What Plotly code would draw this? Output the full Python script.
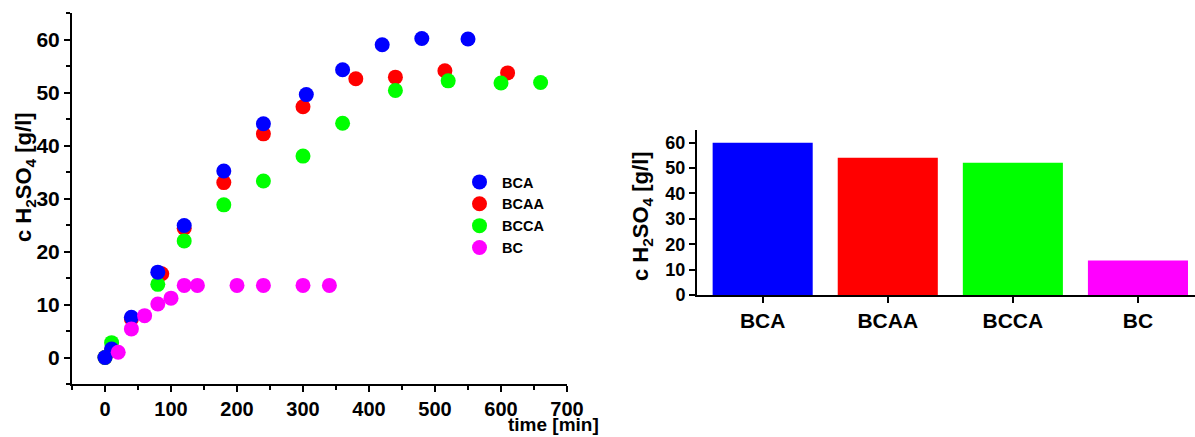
import plotly.graph_objects as go

# ---- data (left: time series) ----
bca_t = [0, 10, 40, 80, 120, 180, 240, 305, 360, 420, 480, 550]
bca_c = [0.0, 1.6, 7.6, 16.1, 24.9, 35.2, 44.1, 49.6, 54.3, 59.0, 60.2, 60.1]

bcaa_t = [0, 10, 40, 86, 120, 180, 240, 300, 380, 440, 515, 610]
bcaa_c = [0.0, 1.4, 7.3, 15.8, 24.4, 33.0, 42.2, 47.3, 52.6, 52.9, 54.1, 53.7]

bcca_t = [0, 10, 80, 120, 180, 240, 300, 360, 440, 520, 600, 660]
bcca_c = [0.0, 2.8, 13.8, 22.0, 28.8, 33.3, 38.0, 44.2, 50.4, 52.2, 51.8, 51.9]

bc_t = [20, 40, 60, 80, 100, 120, 140, 200, 240, 300, 340]
bc_c = [1.0, 5.4, 7.9, 10.1, 11.2, 13.6, 13.6, 13.6, 13.6, 13.6, 13.6]

# ---- data (right: final concentrations) ----
bar_cats = ["BCA", "BCAA", "BCCA", "BC"]
bar_vals = [60.0, 54.1, 52.1, 13.6]

COL = {"BCA": "#0000FF", "BCAA": "#FF0000", "BCCA": "#00FF00", "BC": "#FF00FF"}
FONT = "Liberation Sans, Arial, sans-serif"

fig = go.Figure()

series = [
    ("BCAA", bcaa_t, bcaa_c, 2),
    ("BCCA", bcca_t, bcca_c, 3),
    ("BCA", bca_t, bca_c, 1),
    ("BC", bc_t, bc_c, 4),
]
for name, t, c, rank in series:
    fig.add_trace(go.Scatter(
        x=t, y=c, mode="markers", name=name, legendrank=rank,
        marker=dict(size=15, color=COL[name], line=dict(width=0)),
        xaxis="x", yaxis="y",
    ))

fig.add_trace(go.Bar(
    x=bar_cats, y=bar_vals, marker=dict(color=[COL[c] for c in bar_cats], line=dict(width=0)),
    showlegend=False, xaxis="x2", yaxis="y2",
))

W, H = 1195, 437
axis_common = dict(showline=True, linecolor="black", linewidth=2, ticks="outside",
                   tickcolor="black", tickwidth=2, showgrid=False, zeroline=False,
                   mirror=False, automargin=False)

fig.update_layout(
    template="none",
    width=W, height=H, margin=dict(l=0, r=0, t=0, b=0, pad=0),
    paper_bgcolor="white", plot_bgcolor="white",
    font=dict(family=FONT, color="black"),
    bargap=0.2,
    xaxis=dict(domain=[72 / W, 567 / W], anchor="y", range=[-50, 700], tick0=0, dtick=100,
               ticklen=6, tickfont=dict(size=20, weight="bold"),
               minor=dict(dtick=50, ticks="outside", ticklen=4, tickwidth=2, tickcolor="black"),
               **axis_common),
    yaxis=dict(domain=[(H - 384) / H, (H - 13) / H], anchor="x", range=[-5, 65], tick0=0, dtick=10,
               ticklen=6, tickfont=dict(size=21, weight="bold"),
               minor=dict(dtick=5, ticks="outside", ticklen=4, tickwidth=2, tickcolor="black"),
               **axis_common),
    xaxis2=dict(domain=[697 / W, 1.0], anchor="y2", range=[-0.525, 3.456], type="category",
                ticklen=6, tickfont=dict(size=21, weight="bold"), **axis_common),
    yaxis2=dict(domain=[(H - 295) / H, (H - 130) / H], anchor="x2", range=[0, 65], tick0=0, dtick=10,
                ticklen=6, tickfont=dict(size=18, weight="bold"), **axis_common),
    legend=dict(x=457 / W, y=(H - 166) / H, xanchor="left", yanchor="top",
                bgcolor="rgba(0,0,0,0)", font=dict(size=14.5, weight="bold"),
                itemsizing="trace", itemwidth=35, tracegroupgap=0),
    annotations=[
        dict(text="c H<sub>2</sub>SO<sub>4</sub> [g/l]", xref="paper", yref="paper",
             x=25 / W, y=(H - 177) / H, textangle=-90, showarrow=False,
             font=dict(size=22, weight="bold"), xanchor="center", yanchor="middle"),
        dict(text="time [min]", xref="paper", yref="paper",
             x=553 / W, y=(H - 424) / H, showarrow=False,
             font=dict(size=19, weight="bold"), xanchor="center", yanchor="middle"),
        dict(text="c H<sub>2</sub>SO<sub>4</sub> [g/l]", xref="paper", yref="paper",
             x=642 / W, y=(H - 216) / H, textangle=-90, showarrow=False,
             font=dict(size=22, weight="bold"), xanchor="center", yanchor="middle"),
    ],
)

fig.write_html("out.html")
